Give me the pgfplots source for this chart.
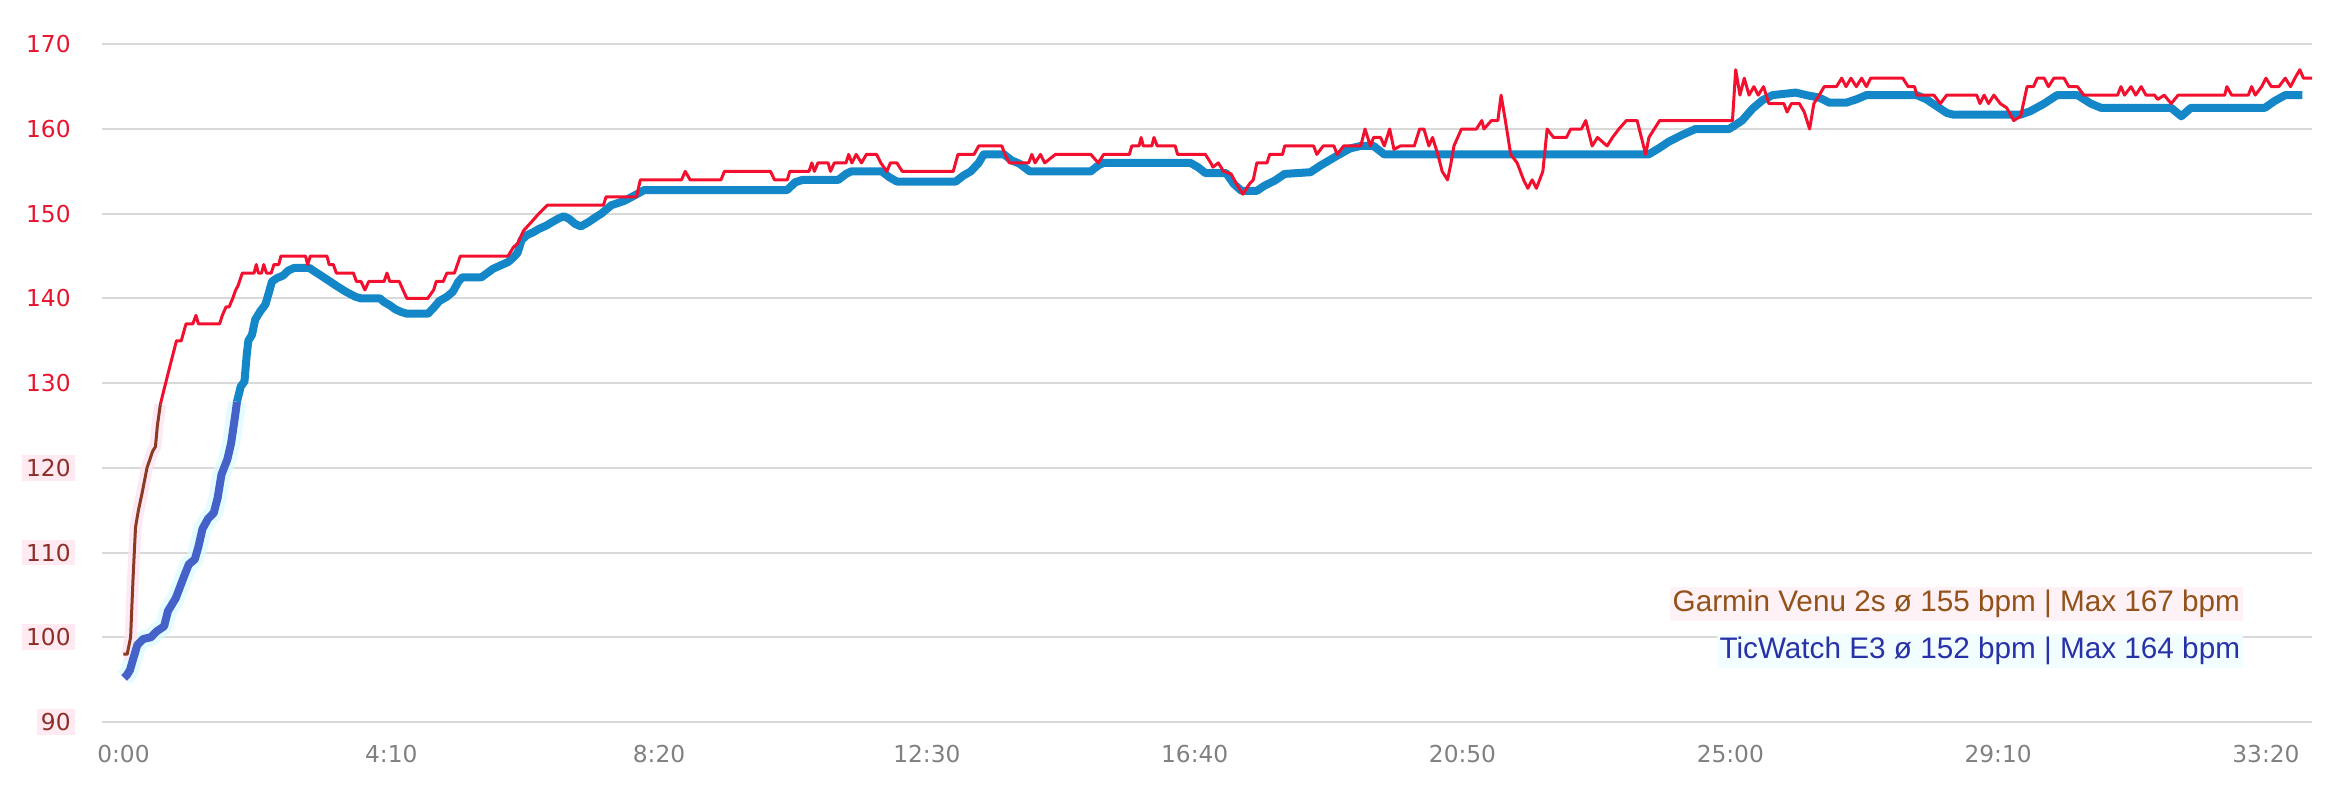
\documentclass[border=0pt]{standalone}
\usepackage{pgfplots}
\usepackage{pgfplotstable}
\pgfplotsset{compat=1.18}
\usepackage{fontspec}
\setmainfont{DejaVu Sans}
\newfontfamily\legfont{Liberation Sans}
\definecolor{gar}{HTML}{F2102E}
\definecolor{garbrown}{HTML}{8B3A24}
\definecolor{garhalo}{HTML}{FDE4F0}
\definecolor{tic}{HTML}{1487C8}
\definecolor{ticstart}{HTML}{4562C8}
\definecolor{tichalo}{HTML}{D8FAFF}
\definecolor{gridc}{HTML}{D9D9D9}
\definecolor{ylabred}{HTML}{E8142E}
\definecolor{ylabbrown}{HTML}{8E2E28}
\definecolor{lopink}{HTML}{FFEAF2}
\definecolor{legpink}{HTML}{FFF2F6}
\definecolor{legcyan}{HTML}{F2FDFF}
\definecolor{xlab}{HTML}{808080}
\definecolor{gartext}{HTML}{92521A}
\definecolor{tictext}{HTML}{2832A8}
\newcommand\lo[1]{{\setlength\fboxsep{2pt}\hspace*{-2pt}\colorbox{lopink}{\textcolor{ylabbrown}{#1}}\hspace*{-2pt}}}

% Garmin Venu 2s, time in seconds, heart rate in bpm
\pgfplotstableread{
t v
0 98
3.5 98
6.7 100
9 107
11.3 113
14 115
17.4 117
22 120
27.4 122
29.9 122.5
31.7 125
34.5 127.5
}\garminA
\pgfplotstableread{
t v
34.5 127.5
37.4 129
43.4 132
49.5 135
54 135
58.4 137
64.8 137
67.7 138
70 137
89.8 137
92.3 138
95.8 139
98.7 139
102 140
104.8 141
107 141.5
111 143
122 143
124 144
126 143
129 143
131 144
133.5 143
138 143
140.5 144
145 144
147 145
170 145
172 144
174.5 145
190 145
192 144
196 144
198.7 143
214.7 143
217.5 142
221.8 142
225.4 141
229 142
243.3 142
246 143
248.6 142
257.5 142
261 141
264.6 140
284 140
289.6 141
292 142
298.5 142
302 143
309 143
314.5 145
359 145
363.8 146
368 146.5
373.5 148
380.7 149
387.7 150
395.6 151
448 151
450.6 152
479 152
482.5 154
521 154
524.4 155
529 154
557.8 154
561 155
604 155
607.8 154
619.7 154
622 155
640 155
642.6 156
645 155
648.3 156
657.8 156
660 155
663.6 156
674.5 156
677 157
680 156
684 157
689 156
693.5 157
703 157
707 156
712.6 155
716 156
722 156
727 155
774.6 155
779 157
794 157
798.4 158
820 158
823 157
827 156
845 156
848 157
851 156
856 157
860 156
870 157
903 157
910 156
915 157
939 157
941.3 158
948 158
950 159
952 158
960 158
962 159
965 158
981.8 158
984 157
1010 157
1015 156
1017 155.5
1022 156
1027 155
1034 154.7
1039 153.5
1045 152.3
1051 153.5
1054.7 154
1058 156
1067.5 156
1070 157
1082 157
1084 158
1111 158
1114 157
1120 158
1130 158
1133 157
1139 158
1155 158
1159 160
1164 158
1167 159
1173.5 159
1177 158
1182 160
1186 157.6
1192 158
1205 158
1210 160
1214 160
1218.6 158
1222 159
1227 157
1231 155
1236 154
1239 155.8
1242 158
1249 160
1263 160
1268 161
1270 160
1277 161
1283 161
1286 164
1290 161
1295 157
1301 156
1307 154
1311 153
1315 154
1319 153
1325 155
1329 160
1335 159
1347 159
1351 160
1361 160
1365 161
1371 158
1376 159
1385 158
1390 159
1396 160
1403 161
1413 161
1417 159
1421 157
1424 159
1429 160
1434 161
1502 161
1505 167
1509 164
1513 166
1517.5 164
1522 165
1526 164
1531 165
1536 163
1542.5 163
1550 163
1553 162
1557 163
1564.5 163
1569 162
1574 160
1578 163
1583 164
1587.6 165
1599 165
1604 166
1608 165
1612.6 166
1617.6 165
1622.6 166
1627 165
1631 166
1661 166
1666 165
1672 165
1674 164
1690 164
1696 163
1702 164
1730 164
1733 163
1737 164
1741 163
1746 164
1752 163
1758 162.5
1764.5 161
1771 161.5
1777 165
1783 165
1786.5 166
1793 166
1797 165
1802 166
1811.5 166
1816 165
1824 165
1830 164
1861.5 164
1864.6 165
1868 164
1874 165
1878.5 164
1883.5 165
1888 164
1896 164
1899 163.5
1905 164
1911.5 163
1918 164
1961.5 164
1963.5 165
1968 164
1983.5 164
1986.6 165
1990 164
1996 165
2000 166
2005 165
2012 165
2018 166
2023 165
2027 166
2031.6 167
2035 166
2043 166
}\garminB

% TicWatch E3
\pgfplotstableread{
t v
0.6 95.2
3 95.5
6 96.1
8.8 97.3
13 99.1
18.5 99.8
25.6 100
31 100.7
38 101.3
41.6 103.1
48.8 104.6
56 107
61 108.6
66.6 109.2
70 110.7
73.8 112.8
79 114
84.4 114.7
88 116.5
91.5 119.2
97 121
100.5 122.9
104 125.9
106 127.8
}\ticA
\pgfplotstableread{
t v
106 127.8
109.5 129.6
113 130.2
115 133.2
116.6 135
120 135.7
123 137.5
127.3 138.4
132.6 139.3
136 140.8
138.7 142
143.3 142.4
149 142.7
154 143.3
159.4 143.6
173.6 143.6
177 143.3
184.4 142.7
191.6 142.1
198.7 141.5
207.5 140.8
216.5 140.2
221.8 140
239.6 140
243 139.6
248.6 139.2
254 138.7
259.4 138.4
264.6 138.2
284.3 138.2
289.6 138.9
295 139.7
302 140.2
307.5 140.8
312.8 142
316.4 142.5
334.3 142.5
339.6 143
345 143.5
352 143.9
359.2 144.3
364.5 144.9
368 145.4
371.7 146.9
377 147.5
382.4 147.8
387.7 148.2
394.8 148.6
400 149
405.6 149.4
411 149.7
416 149.4
421.6 148.8
427 148.5
434 149
441 149.6
446 150
455.4 151
467.3 151.5
479.2 152.3
486.3 152.8
619.7 152.8
626.9 153.7
634 154
667.4 154
674.5 154.7
679.3 155
708 155
715 154.3
722 153.8
777 153.8
784 154.5
791 155
798.4 156
803 157
822 157
829 156.3
836.5 155.9
846 155
903 155
910 155.7
915 156
996 156
1003 155.5
1010 154.8
1029.4 154.8
1036.6 153.5
1043.7 152.7
1058 152.7
1065 153.3
1074.7 153.9
1084 154.7
1108 154.9
1117.6 155.7
1127 156.4
1135 157
1145 157.7
1155 158
1167 158
1177 157
1423.7 157
1433 157.7
1442.5 158.5
1455 159.3
1467.5 160
1498.8 160
1511 161
1520.7 162.4
1530 163.4
1539.4 164
1561 164.3
1571 164
1583 163.7
1592.6 163.1
1608 163.1
1617.6 163.5
1627 164
1674 164
1683 163.5
1692.6 162.7
1702 161.9
1708 161.7
1771 161.7
1780 162.1
1793 163
1805 164
1824 164
1836.5 163
1846 162.5
1911.5 162.5
1921 161.5
1930 162.5
1999 162.5
2008 163.3
2018 164
2034 164
}\ticB

\begin{document}
\begin{tikzpicture}
\begin{axis}[
  scale only axis,
  width=1105pt, height=338.85pt,
  xmin=-20, xmax=2043, ymin=90, ymax=170,
  xtick={0,250,500,750,1000,1250,1500,1750,2000},
  xticklabels={0:00,4:10,8:20,12:30,16:40,20:50,25:00,29:10,33:20},
  ytick={90,100,110,120,130,140,150,160,170},
  yticklabels={\lo{90},\lo{100},\lo{110},\lo{120},130,140,150,160,170},
  axis line style={draw=none},
  major tick length=0pt,
  ymajorgrids,
  grid style={gridc, line width=1pt},
  xticklabel style={font=\fontsize{11.65}{14}\selectfont, text=xlab, anchor=north, inner sep=0pt, yshift=-11.5pt},
  yticklabel style={font=\fontsize{11.65}{14}\selectfont, text=ylabred, anchor=east, inner sep=0pt, xshift=-15.5pt},
  line join=round,
]
\addplot[tichalo, line width=9pt, opacity=0.7] table[x=t,y=v] {\ticA};
\addplot[garhalo, line width=6pt, opacity=0.8] table[x=t,y=v] {\garminA};
\addplot[ticstart, line width=4pt] table[x=t,y=v] {\ticA};
\addplot[tic, line width=4pt] table[x=t,y=v] {\ticB};
\addplot[garbrown, line width=1.5pt] table[x=t,y=v] {\garminA};
\addplot[gar, line width=1.5pt] table[x=t,y=v] {\garminB};
\node[anchor=base east, font=\legfont\fontsize{14.85}{17}\selectfont, text=gartext, fill=legpink, inner sep=1.5pt] at (axis cs:1979,103.0) {Garmin Venu 2s ø 155 bpm | Max 167 bpm};
\node[anchor=base east, font=\legfont\fontsize{14.85}{17}\selectfont, text=tictext, fill=legcyan, inner sep=1.5pt] at (axis cs:1979,97.5) {TicWatch E3 ø 152 bpm | Max 164 bpm};
\end{axis}
\pgfresetboundingbox
\path[use as bounding box] ([xshift=-51pt,yshift=-44pt]current axis.south west) rectangle ([xshift=19pt,yshift=22.15pt]current axis.north east);
\end{tikzpicture}
\end{document}
